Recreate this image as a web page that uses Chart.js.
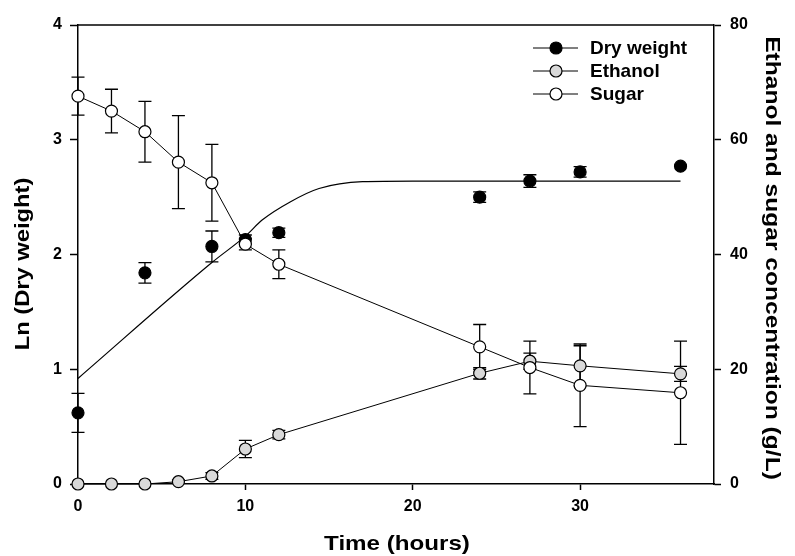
<!DOCTYPE html>
<html>
<head>
<meta charset="utf-8">
<script src="https://cdn.jsdelivr.net/npm/chart.js@4/dist/chart.umd.min.js"></script>
<style>
  html, body { margin: 0; padding: 0; background: #fff; }
  canvas { display: block; }
</style>
</head>
<body>
<canvas id="c" width="795" height="556"></canvas>
<script>
// Sampling times (h) for sugar and ethanol
const timeHours = [0, 2, 4, 6, 8, 10, 12, 24, 27, 30, 36];
// Residual sugar (g/L) and standard deviation
const sugar    = [67.6, 65.0, 61.4, 56.1, 52.5, 41.8, 38.3, 23.9, 20.3, 17.2, 15.9];
const sugarErr = [3.3, 3.8, 5.3, 8.1, 6.7, 1.0, 2.5, 3.9, 4.6, 7.2, 9.0];
// Ethanol produced (g/L) and standard deviation
const ethanol    = [0, 0, 0, 0.4, 1.4, 6.1, 8.6, 19.3, 21.4, 20.6, 19.2];
const ethanolErr = [0, 0, 0, 0.3, 0.6, 1.5, 0.75, 1.0, 1.4, 3.5, 1.3];
// Biomass sampling times (h), ln(dry weight) and standard deviation
const dryTime     = [0, 4, 8, 10, 12, 24, 27, 30, 36];
const lnDryWeight = [0.62, 1.84, 2.07, 2.13, 2.19, 2.50, 2.64, 2.72, 2.77];
const lnDryErr    = [0.17, 0.09, 0.135, 0.04, 0.04, 0.045, 0.055, 0.045, 0];
// Fitted growth curve, ln(dry weight)
const fitTime = [0, 8, 10, 11, 12.7, 14.4, 17, 20, 36];
const fitLn   = [0.92, 1.93, 2.16, 2.30, 2.46, 2.575, 2.635, 2.64, 2.64];
// Axis tick settings
const xTickStep = 10, lnTickStep = 1, concTickStep = 20;

const FONT = '"Liberation Sans", Arial, sans-serif';
const pts = (xs, ys) => xs.map((x, i) => ({ x: x, y: ys[i] }));

// Vertical error bars with caps, drawn beneath the markers
const errorBars = {
  id: 'errorBars',
  beforeDatasetsDraw(chart) {
    const ctx = chart.ctx;
    chart.data.datasets.forEach((ds, i) => {
      if (!ds.errors) return;
      const meta = chart.getDatasetMeta(i);
      const xs = chart.scales[meta.xAxisID], ys = chart.scales[meta.yAxisID];
      ctx.save();
      ctx.strokeStyle = '#000';
      ctx.lineWidth = 1.3;
      ds.data.forEach((p, j) => {
        const e = ds.errors[j];
        if (!e) return;
        const x = xs.getPixelForValue(p.x);
        const yTop = ys.getPixelForValue(p.y + e);
        const yBot = ys.getPixelForValue(p.y - e);
        ctx.beginPath();
        ctx.moveTo(x, yTop); ctx.lineTo(x, yBot);
        ctx.moveTo(x - 6.5, yTop); ctx.lineTo(x + 6.5, yTop);
        ctx.moveTo(x - 6.5, yBot); ctx.lineTo(x + 6.5, yBot);
        ctx.stroke();
      });
      ctx.restore();
    });
  }
};

// Top edge of the plot frame
const frameTop = {
  id: 'frameTop',
  afterDraw(chart) {
    const { ctx, chartArea } = chart;
    ctx.save();
    ctx.strokeStyle = '#000';
    ctx.lineWidth = 1.5;
    ctx.beginPath();
    ctx.moveTo(chartArea.left, chartArea.top);
    ctx.lineTo(chartArea.right, chartArea.top);
    ctx.stroke();
    ctx.restore();
  }
};

// Axis titles, set in a slightly wide bold face
function drawWideText(ctx, text, cx, cy, rot, size, stretch) {
  ctx.save();
  ctx.translate(cx, cy);
  ctx.rotate(rot);
  ctx.scale(stretch, 1);
  ctx.font = 'bold ' + size + 'px ' + FONT;
  ctx.fillStyle = '#000';
  ctx.textAlign = 'center';
  ctx.textBaseline = 'middle';
  ctx.fillText(text, 0, 0);
  ctx.restore();
}
const axisTitles = {
  id: 'axisTitles',
  afterDraw(chart) {
    const { ctx, chartArea } = chart;
    const midX = (chartArea.left + chartArea.right) / 2;
    drawWideText(ctx, 'Time (hours)', midX + 1, 544, 0, 21, 1.15);
    drawWideText(ctx, 'Ln (Dry weight)', 23, 264, -Math.PI / 2, 21, 1.13);
    drawWideText(ctx, 'Ethanol and sugar concentration (g/L)', 772, 258, Math.PI / 2, 21, 1.17);
  }
};

// Legend: line with marker, then label
const seriesLegend = {
  id: 'seriesLegend',
  afterDraw(chart) {
    const ctx = chart.ctx;
    const order = ['Dry weight', 'Ethanol', 'Sugar'];
    order.forEach((name, k) => {
      const ds = chart.data.datasets.find(d => d.label === name);
      const y = 48 + k * 23;
      ctx.save();
      ctx.strokeStyle = '#000';
      ctx.lineWidth = 1;
      ctx.beginPath();
      ctx.moveTo(533, y); ctx.lineTo(578, y);
      ctx.stroke();
      ctx.beginPath();
      ctx.arc(556, y, 6, 0, Math.PI * 2);
      ctx.fillStyle = ds.pointBackgroundColor;
      ctx.fill();
      ctx.lineWidth = 1.2;
      ctx.stroke();
      ctx.font = 'bold 19px ' + FONT;
      ctx.fillStyle = '#000';
      ctx.textAlign = 'left';
      ctx.textBaseline = 'middle';
      ctx.fillText(name, 590, y + 1);
      ctx.restore();
    });
  }
};

const markerBase = {
  pointRadius: 6,
  pointHoverRadius: 6,
  pointBorderColor: '#000',
  pointBorderWidth: 1.2,
  borderColor: '#000',
  borderWidth: 1,
  tension: 0,
  clip: false
};

const tickFont = { family: FONT, size: 16, weight: 'bold' };

new Chart(document.getElementById('c'), {
  type: 'scatter',
  data: {
    datasets: [
      Object.assign({}, markerBase, {
        label: 'Sugar',
        data: pts(timeHours, sugar),
        errors: sugarErr,
        yAxisID: 'yConc',
        showLine: true,
        pointBackgroundColor: '#ffffff'
      }),
      Object.assign({}, markerBase, {
        label: 'Ethanol',
        data: pts(timeHours, ethanol),
        errors: ethanolErr,
        yAxisID: 'yConc',
        showLine: true,
        pointBackgroundColor: '#d9d9d9'
      }),
      Object.assign({}, markerBase, {
        label: 'Dry weight',
        data: pts(dryTime, lnDryWeight),
        errors: lnDryErr,
        yAxisID: 'yLn',
        showLine: false,
        pointBackgroundColor: '#000000'
      }),
      {
        label: 'Growth fit',
        data: pts(fitTime, fitLn),
        yAxisID: 'yLn',
        showLine: true,
        pointRadius: 0,
        pointHoverRadius: 0,
        borderColor: '#000',
        borderWidth: 1.2,
        cubicInterpolationMode: 'monotone',
        clip: false
      }
    ]
  },
  options: {
    responsive: false,
    animation: false,
    devicePixelRatio: 1,
    events: [],
    layout: { padding: { top: 25, left: 0, right: 0, bottom: 0 } },
    plugins: {
      legend: { display: false },
      tooltip: { enabled: false },
      title: { display: false }
    },
    scales: {
      x: {
        type: 'linear',
        position: 'bottom',
        min: 0,
        max: 38,
        ticks: { stepSize: xTickStep, includeBounds: false, font: tickFont, color: '#000', padding: 7 },
        grid: { drawOnChartArea: false, drawTicks: true, tickLength: 6, tickColor: '#000', tickWidth: 1.5 },
        border: { display: true, color: '#000', width: 1.5 },
        afterFit(s) { s.height = 72; }
      },
      yLn: {
        type: 'linear',
        position: 'left',
        min: 0,
        max: 4,
        ticks: { stepSize: lnTickStep, font: tickFont, color: '#000', padding: 8 },
        grid: { drawOnChartArea: false, drawTicks: true, tickLength: 8, tickColor: '#000', tickWidth: 1.5 },
        border: { display: true, color: '#000', width: 1.5 },
        afterFit(s) { s.width = 78; }
      },
      yConc: {
        type: 'linear',
        position: 'right',
        min: 0,
        max: 80,
        ticks: { stepSize: concTickStep, font: tickFont, color: '#000', padding: 9 },
        grid: { drawOnChartArea: false, drawTicks: true, tickLength: 7, tickColor: '#000', tickWidth: 1.5 },
        border: { display: true, color: '#000', width: 1.5 },
        afterFit(s) { s.width = 81; }
      }
    }
  },
  plugins: [errorBars, frameTop, axisTitles, seriesLegend]
});
</script>
</body>
</html>
